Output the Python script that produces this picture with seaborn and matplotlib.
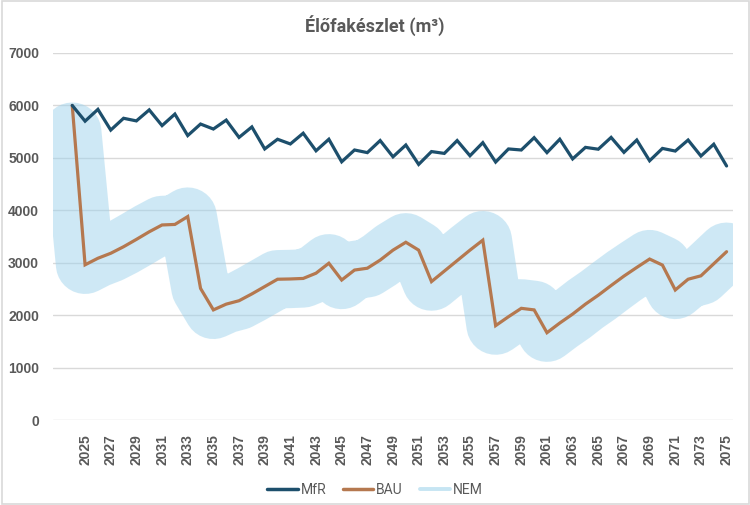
import numpy as np
import pandas as pd
import matplotlib
matplotlib.use('Agg')
import matplotlib.pyplot as plt
import seaborn as sns
from matplotlib.lines import Line2D
from matplotlib.patches import Rectangle

# 数据
years = np.arange(2024, 2076)
mfr = [6000, 5700, 5925, 5530, 5755, 5705, 5915, 5615, 5835, 5425,
       5645, 5550, 5720, 5390, 5590, 5170, 5355, 5265, 5470, 5135,
       5355, 4925, 5150, 5100, 5330, 5020, 5245, 4875, 5120, 5085,
       5330, 5040, 5290, 4920, 5170, 5150, 5385, 5100, 5355, 4980,
       5200, 5165, 5390, 5105, 5340, 4945, 5180, 5130, 5340, 5035,
       5260, 4845]
bau = [6000, 2960, 3085, 3180, 3305, 3445, 3590, 3720, 3730, 3880,
       2510, 2100, 2210, 2275, 2405, 2545, 2685, 2690, 2700, 2800,
       2990, 2670, 2860, 2895, 3050, 3240, 3390, 3240, 2640, 2840,
       3040, 3240, 3430, 1800, 1970, 2130, 2100, 1665, 1850, 2020,
       2210, 2380, 2565, 2745, 2910, 3070, 2955, 2480, 2685, 2750,
       2980, 3210]
nem = [5500, 2960, 3085, 3180, 3305, 3445, 3590, 3720, 3730, 3880,
       2510, 2100, 2210, 2275, 2405, 2545, 2685, 2690, 2700, 2800,
       2990, 2670, 2860, 2895, 3050, 3240, 3390, 3240, 2640, 2840,
       3040, 3240, 3430, 1800, 1970, 2130, 2100, 1665, 1850, 2020,
       2210, 2380, 2565, 2745, 2910, 3070, 2955, 2480, 2685, 2750,
       2980, 3210]
tick_years = np.arange(2025, 2076, 2)

df = pd.DataFrame({'year': years, 'MfR': mfr, 'BAU': bau, 'NEM': nem})

sns.set_theme(style='white')
plt.rcParams['font.family'] = ['Liberation Sans', 'DejaVu Sans']

c_mfr = '#1d4f6c'
c_bau = '#b5784f'
c_nem = '#9fd3ec'
grey = '#595959'

fig = plt.figure(figsize=(7.5, 5.05), dpi=100)
fig.patches.append(Rectangle((0.002, 0.002), 0.996, 0.996, transform=fig.transFigure,
                             fill=False, edgecolor='#d9d9d9', lw=1.2))
ax = fig.add_axes([53 / 750, 85 / 505, 680 / 750, 367 / 505])

sns.lineplot(data=df, x='year', y='NEM', ax=ax, color=c_nem, alpha=0.5, lw=42,
             solid_capstyle='round', solid_joinstyle='round')
sns.lineplot(data=df, x='year', y='BAU', ax=ax, color=c_bau, lw=2.3,
             solid_joinstyle='miter')
sns.lineplot(data=df, x='year', y='MfR', ax=ax, color=c_mfr, lw=2.3,
             solid_joinstyle='miter')

ax.set_xlim(2022.5, 2075.5)
ax.set_ylim(0, 7000)
ax.set_yticks(range(0, 7001, 1000))
ax.set_xticks(tick_years)
ax.set_xticklabels([str(y) for y in tick_years], rotation=90)
ax.set_xlabel('')
ax.set_ylabel('')
ax.grid(axis='y', color='#d9d9d9', lw=1)
ax.grid(axis='x', visible=False)
ax.set_axisbelow(True)
for s in ax.spines.values():
    s.set_visible(False)
ax.tick_params(axis='both', length=0, labelsize=10, labelcolor=grey)
ax.tick_params(axis='y', pad=10)
ax.tick_params(axis='x', pad=10)
for lab in ax.get_xticklabels() + ax.get_yticklabels():
    lab.set_fontweight('bold')

fig.text(0.5, 0.95, 'Élőfakészlet (m³)', ha='center', va='center',
         fontsize=13, fontweight='bold', color=grey, family=['Roboto', 'DejaVu Sans'])

handles = [Line2D([], [], color=c_mfr, lw=2.5),
           Line2D([], [], color=c_bau, lw=2.5),
           Line2D([], [], color='#c6e5f3', lw=2.8)]
fig.legend(handles, ['MfR', 'BAU', 'NEM'], loc='center', bbox_to_anchor=(0.5, 0.03),
           ncol=3, frameon=False, handlelength=2.2, handletextpad=0.2, columnspacing=1.2,
           prop={'family': 'Roboto', 'size': 10}, labelcolor=grey)

fig.savefig('out.png', dpi=100)
